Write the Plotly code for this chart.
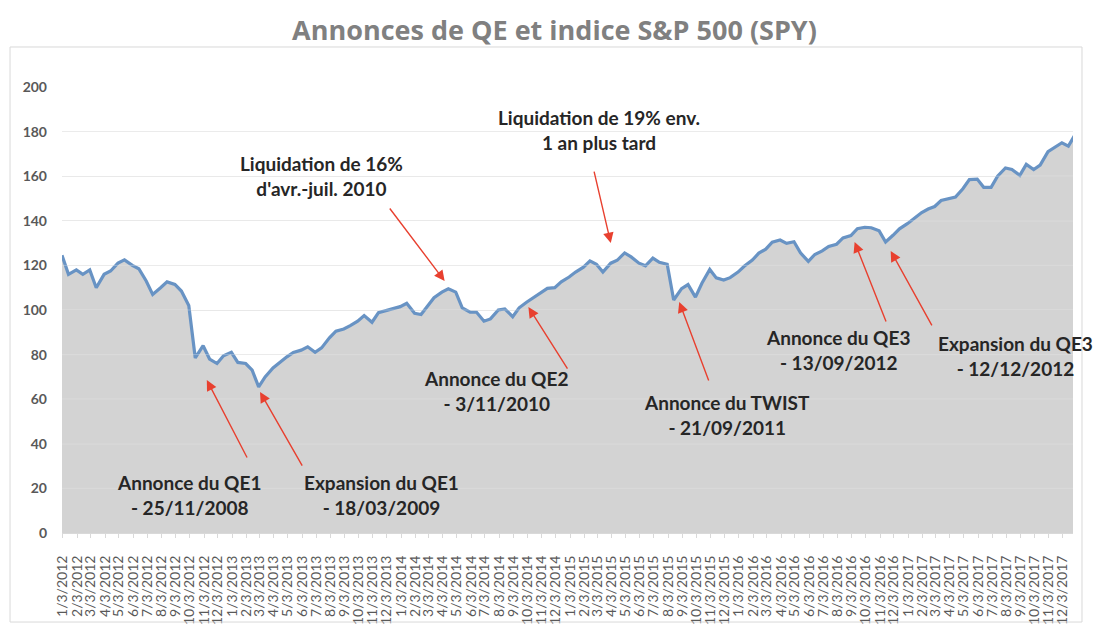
import pandas as pd
import plotly.graph_objects as go

# SPY price, every half month (1st and 15th)
dates = pd.date_range("2012-01-01", periods=145, freq="SMS")
spy = [
    124.5, 116, 118, 116, 118, 110, 116, 117.5, 121, 122.5,
    120, 118.5, 113, 107, 110, 112.6, 111.5, 108.5, 102, 78.5,
    84, 78, 76, 79.5, 81, 76.5, 76, 73, 65.5, 70,
    74, 76.5, 79, 81, 82, 83.5, 81, 83, 87.5, 90.5,
    91.5, 93, 95, 97.5, 94.5, 98.8, 99.8, 100.5, 101.5, 103,
    98.5, 98, 102, 105.5, 108, 109.5, 108, 101, 99, 99,
    95, 96, 100, 100.5, 97, 101, 103.5, 105.5, 107.7, 109.7,
    110, 112.6, 114.8, 117, 119.2, 122, 120.5, 117, 121, 122.3,
    125.6, 123.8, 121, 119.8, 123.3, 121.4, 120.5, 104.5, 109.6, 111.4,
    105.8, 112, 118.2, 114.4, 113.4, 114.5, 117, 119.7, 122.4, 125.5,
    127.3, 130.4, 131.4, 129.9, 130.6, 125.6, 121.8, 124.9, 126.5, 128.5,
    129.5, 132.3, 133.4, 136.5, 137.1, 136.9, 135.5, 130.5, 133.5, 136.4,
    138.7, 141.1, 143.7, 145.3, 146.4, 149.1, 149.8, 150.6, 154.4, 158.5,
    158.7, 155, 155, 160, 163.7, 163, 160.4, 165.3, 163, 165,
    171, 173, 175, 173.5, 179.5,
]

# x labels as printed on the original axis (M/3/YYYY)
tick_dates = pd.date_range("2012-01-01", periods=72, freq="MS") + pd.Timedelta(days=2)
tick_text = [f"{d.month}/3/{d.year}" for d in tick_dates]
y_ticks = list(range(0, 201, 20))

# annotations: text, arrow tip (date, value), text centre (date, value)
labels = [
    "Liquidation de 16%<br>d'avr.-juil. 2010",
    "Liquidation de 19% env.<br>1 an plus tard",
    "Annonce du QE1<br>- 25/11/2008",
    "Expansion du QE1<br>- 18/03/2009",
    "Annonce du QE2<br>- 3/11/2010",
    "Annonce du TWIST<br>- 21/09/2011",
    "Annonce du QE3<br>- 13/09/2012",
    "Expansion du QE3<br>- 12/12/2012",
]
tip_x = ["2014-04-07", "2015-04-01", "2012-11-09", "2013-03-04",
         "2014-10-05", "2015-08-27", "2016-09-09", "2016-11-26"]
tip_y = [113, 130, 68.6, 63.2, 101.3, 103.6, 130.5, 126.5]
text_x = ["2013-07-14", "2015-03-06", "2012-10-02", "2013-11-22",
          "2014-07-28", "2015-12-08", "2016-08-05", "2017-08-23"]
text_y = [160.1, 180.7, 17.0, 17.0, 63.7, 52.9, 82.1, 79.4]
# arrow tail offsets in pixels (from tip)
tail_dx = [-56, -17, 41, 43, 40, 30, 32, 42]
tail_dy = [-74, -73, 79, 75, 63, 80, 81, 76]

fig = go.Figure()
fig.add_trace(go.Scatter(
    x=dates, y=spy, mode="lines", fill="tozeroy",
    fillcolor="rgba(196,196,196,0.75)",
    line=dict(color="#6893c4", width=3.2),
    hoverinfo="x+y", showlegend=False,
))

# gridlines show faintly through the grey area in the original
for v in y_ticks[1:]:
    fig.add_hline(y=v, line=dict(color="rgba(255,255,255,0.3)", width=1), layer="above")

for i, t in enumerate(labels):
    fig.add_annotation(
        x=text_x[i], y=text_y[i], text=t, showarrow=False,
        xanchor="center", yanchor="middle",
        font=dict(family="Lato", size=19, color="#262626", weight="bold"),
    )
    fig.add_annotation(
        x=tip_x[i], y=tip_y[i], text="", showarrow=True,
        ax=tail_dx[i], ay=tail_dy[i],
        arrowcolor="#e8402f", arrowwidth=1.4, arrowhead=2, arrowsize=1.5,
    )

# light frame round the chart area
fig.add_shape(type="rect", xref="paper", yref="paper",
              x0=-0.0514, x1=1.0089, y0=-0.1996, y1=1.0897,
              line=dict(color="#d9d9d9", width=1))

# the page body adds an 8px offset, so the figure is 8px smaller
fig.update_layout(
    width=1093, height=619,
    margin=dict(l=54, r=28, t=79, b=94),
    paper_bgcolor="white", plot_bgcolor="white",
    title=dict(text="Annonces de QE et indice S&P 500 (SPY)",
               x=0.5, xanchor="center", y=0.964, yanchor="middle",
               font=dict(family="Open Sans", size=27, color="#808080", weight="bold")),
    xaxis=dict(
        type="date", range=["2012-01-01", "2017-12-25"],
        tickvals=tick_dates, ticktext=tick_text, tickangle=-90,
        tickfont=dict(family="Lato", size=14, color="#595959"),
        showgrid=False, showline=True, linecolor="#d9d9d9",
        ticks="outside", ticklen=4, tickcolor="#d9d9d9",
        ticklabelstandoff=12, automargin=False,
    ),
    yaxis=dict(
        range=[0, 200], tickvals=y_ticks, showgrid=True, gridcolor="#e4e4e4",
        tickfont=dict(family="Lato", size=14, color="#595959", weight="bold"),
        zeroline=False, ticklabelstandoff=14, automargin=False,
    ),
)

fig.write_html("out.html")
